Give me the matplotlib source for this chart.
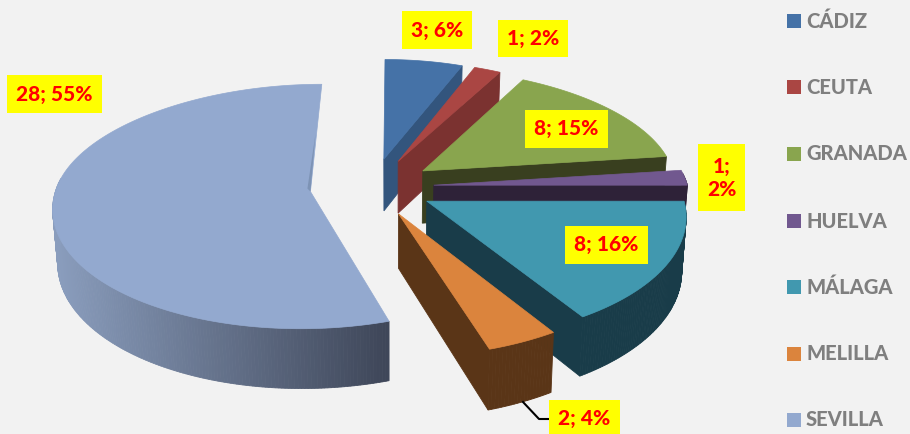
import numpy as np
import matplotlib
matplotlib.use("Agg")
import matplotlib.pyplot as plt
from matplotlib.patches import Polygon, Rectangle

provinces = ["CÁDIZ", "CEUTA", "GRANADA", "HUELVA", "MÁLAGA", "MELILLA", "SEVILLA"]
counts = [3, 1, 8, 1, 8, 2, 28]
percents = [6, 2, 15, 2, 16, 4, 55]

top_colors = ["#4572a7", "#aa4643", "#89a54e", "#71588f", "#4198af", "#db843d", "#93a9cf"]
side_colors = ["#33557d", "#7b3230", "#393f1f", "#2e2238", "#193c49", "#5a3517", "#3f4759"]
label_boxes = [(402, 11, 70, 38), (498, 20, 70, 37), (525, 110, 83, 38), (698, 144, 47, 67),
               (565, 226, 83, 38), (549, 400, 71, 38), (7, 75, 95, 38)]
legend_y = [21, 87, 154, 221, 287, 354, 420]

# projection of the pie plane to image pixels, fitted by eye
cx, cy = 372, 187
rx, ry = 254, 121
explode_x, explode_y = 62, 0.24
persp = 0.11
vanish_x = 391
depth = 53


def project(theta, r, mid):
    wx = r*np.sin(theta)
    wy = r*np.cos(theta) + explode_y*np.cos(mid)
    s = 1/(1 + persp*wy)
    back = np.maximum(wy, 0)
    sx = s*(1 - 0.05*back**2)
    sy = 1/(1 + (persp + 0.03*np.minimum(back, 1))*wy)
    x = vanish_x + (cx + rx*wx + explode_x*np.sin(mid) - vanish_x)*sx
    y = cy - ry*wy*sy
    return x, y, s


def lower(x, y, s):
    return vanish_x + (x - vanish_x)*0.985, y + depth*s


def mix(c1, c2, t):
    a, b = np.array(matplotlib.colors.to_rgb(c1)), np.array(matplotlib.colors.to_rgb(c2))
    return a + (b - a)*t


fig = plt.figure(figsize=(9.1, 4.34), dpi=100, facecolor="#f2f2f2")
ax = fig.add_axes([0, 0, 1, 1])
ax.set_xlim(0, 910)
ax.set_ylim(434, 0)
ax.axis("off")

edges = np.radians(np.concatenate([[0], np.cumsum(percents)])*3.6)

for i in range(len(percents)):
    start, end = edges[i], edges[i + 1]
    mid = (start + end)/2
    th = np.linspace(start, end, max(6, int(np.degrees(end - start)*1.5)))
    x, y, s = project(th, 1, mid)
    bx, by = lower(x, y, s)
    ax0, ay0, s0 = project(0.0, 0, mid)
    bx0, by0 = lower(ax0, ay0, s0)

    # outer wall, narrow quads so it can carry a gradient
    for j in range(len(th) - 1):
        if np.cos(th[j]) > 0.1:
            continue
        if i == 6:
            col = mix("#8a9dbd", side_colors[i], np.clip((x[j] - 55)/330, 0, 1))
        else:
            col = side_colors[i]
        quad = [(x[j], y[j]), (x[j+1], y[j+1]), (bx[j+1], by[j+1]), (bx[j], by[j])]
        ax.add_patch(Polygon(quad, closed=True, fc=col, ec=col, lw=0.6))

    # cut face at the end angle
    if i < 6:
        face = [(ax0, ay0), (x[-1], y[-1]), (bx[-1], by[-1]), (bx0, by0)]
        ax.add_patch(Polygon(face, closed=True, fc=side_colors[i], ec=side_colors[i], lw=0.6))

    top = [(ax0, ay0)] + list(zip(x, y))
    ax.add_patch(Polygon(top, closed=True, fc=top_colors[i], ec=top_colors[i], lw=0.5))

    if i == 6:
        # thin sliver of the cut face beside the apex
        ex, ey, _ = project(edges[-1], 0.5, mid)
        ax.add_patch(Polygon([(ex, ey), (ax0, ay0), (ax0 - 3, ay0 - 3)], closed=True,
                             fc="#7d93b5", ec="none"))

font = ["Lato", "DejaVu Sans"]

for i, (bxx, byy, w, h) in enumerate(label_boxes):
    ax.add_patch(Rectangle((bxx, byy), w, h, fc="#ffff00", ec="none", zorder=5))
    sep = ";\n" if i == 3 else "; "
    ax.text(bxx + w/2, byy + h/2, f"{counts[i]}{sep}{percents[i]}%", color="#ff0000",
            fontsize=15, fontweight="black", family=font, ha="center", va="center",
            linespacing=1.25, zorder=6)

# leader line for the melilla label
ax.plot([523, 539, 549], [402, 419, 419], color="black", lw=1.5, zorder=1)

for name, col, ly in zip(provinces, top_colors, legend_y):
    ax.add_patch(Rectangle((787, ly - 7), 14, 14, fc=col, ec="none"))
    ax.text(806, ly, name, color="#7f7f7f", fontsize=14.5, fontweight="black", family=font,
            ha="left", va="center")

fig.savefig("out.png", dpi=100, facecolor=fig.get_facecolor())
